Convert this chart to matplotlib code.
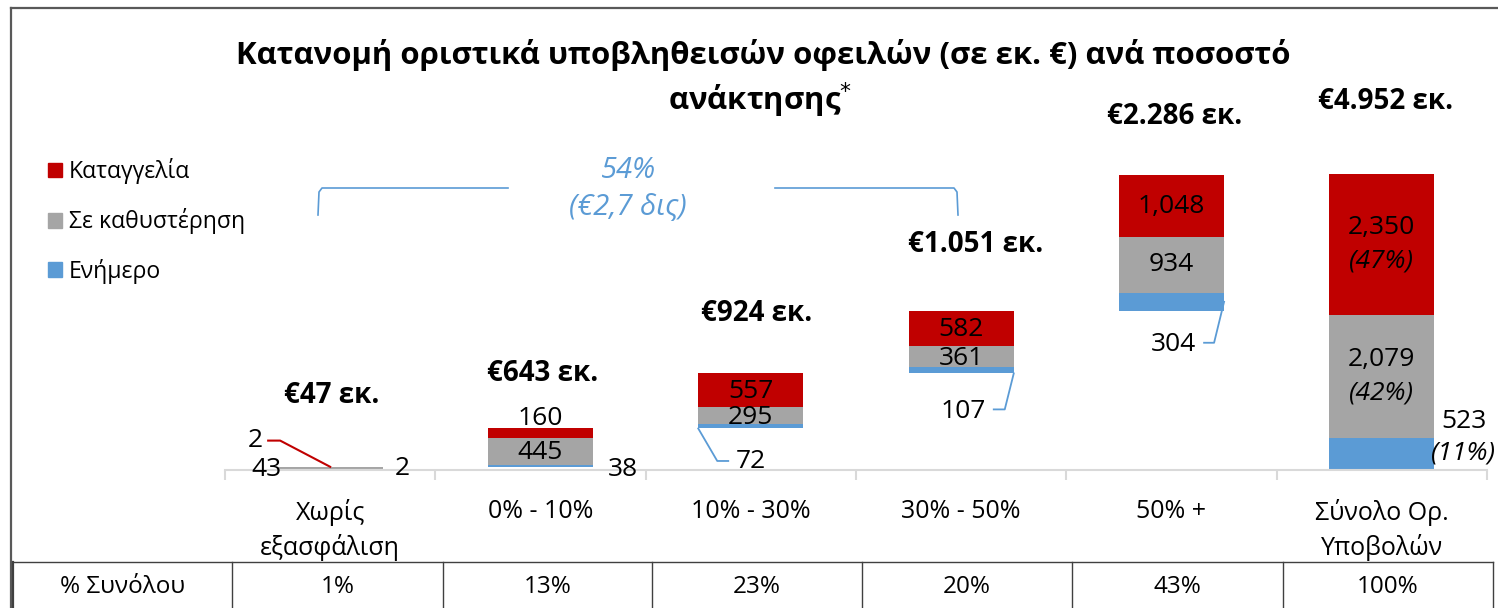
import matplotlib
matplotlib.use('Agg')
import matplotlib.pyplot as plt
from matplotlib.patches import Patch
from matplotlib.lines import Line2D

# ---------------- data ----------------
categories = ["Χωρίς\nεξασφάλιση", "0% - 10%", "10% - 30%", "30% - 50%", "50% +", "Σύνολο Ορ.\nΥποβολών"]
enimero = [2, 38, 72, 107, 304, 523]            # Ενήμερο
kathysterisi = [43, 445, 295, 361, 934, 2079]    # Σε καθυστέρηση
katangelia = [2, 160, 557, 582, 1048, 2350]      # Καταγγελία
total_labels = ["€47 εκ.", "€643 εκ.", "€924 εκ.", "€1.051 εκ.", "€2.286 εκ.", "€4.952 εκ."]
share_of_total = ["1%", "13%", "23%", "20%", "43%", "100%"]
total_split_pct = ["(11%)", "(42%)", "(47%)"]
is_total = [False, False, False, False, False, True]
bracket_pct = "54%"
bracket_amount = "(€2,7 δις)"
table_header = "% Συνόλου"
title_line1 = "Κατανομή οριστικά υποβληθεισών οφειλών (σε εκ. €) ανά ποσοστό"
title_line2 = "ανάκτησης$^{*}$"
series_names = ["Καταγγελία", "Σε καθυστέρηση", "Ενήμερο"]

# ---------------- style ----------------
RED = "#C00000"
GRAY = "#A5A5A5"
BLUE = "#5B9BD5"
AXGRAY = "#D9D9D9"
FONT = ["Open Sans", "DejaVu Sans"]
plt.rcParams['font.family'] = FONT

W, H = 1498, 608
AX_L, AX_R, AX_B, AX_T = 225, 1487, 469.6, 8
YMAX = 7745

fig = plt.figure(figsize=(W / 100, H / 100), dpi=100)
ax = fig.add_axes([AX_L / W, 1 - AX_B / H, (AX_R - AX_L) / W, (AX_B - AX_T) / H])
ax.set_xlim(-0.5, 5.5)
ax.set_ylim(0, YMAX)
XPX = (AX_R - AX_L) / 6.0
YPX = (AX_B - AX_T) / YMAX


def dx(p):
    return p / XPX


def dy(p):
    return p / YPX


# waterfall bases
sums = [a + b + c for a, b, c in zip(enimero, kathysterisi, katangelia)]
bases = []
run = 0
for s, t in zip(sums, is_total):
    if t:
        bases.append(0)
    else:
        bases.append(run)
        run += s

x = list(range(len(categories)))
BW = 0.5
b1 = bases
b2 = [b + e for b, e in zip(bases, enimero)]
b3 = [b + k for b, k in zip(b2, kathysterisi)]
ax.bar(x, enimero, BW, bottom=b1, color=BLUE, edgecolor='none', zorder=2)
ax.bar(x, kathysterisi, BW, bottom=b2, color=GRAY, edgecolor='none', zorder=2)
ax.bar(x, katangelia, BW, bottom=b3, color=RED, edgecolor='none', zorder=2)
tops = [b + k for b, k in zip(b3, katangelia)]

# axis styling
for s in ['top', 'right', 'left']:
    ax.spines[s].set_visible(False)
ax.spines['bottom'].set_color(AXGRAY)
ax.spines['bottom'].set_linewidth(1.5)
ax.set_yticks([])
ax.set_xticks(x)
ax.set_xticklabels(categories, fontsize=18, linespacing=1.38)
ax.set_xticks([i - 0.5 for i in range(len(categories) + 1)], minor=True)
ax.tick_params(axis='x', which='major', length=0, pad=21)
ax.tick_params(axis='x', which='minor', length=7, width=1.5, color=AXGRAY)

LBL = 19


def lab(xd, yd, text, ox=0, oy=0, **kw):
    kw.setdefault('fontsize', LBL)
    kw.setdefault('ha', 'center')
    kw.setdefault('va', 'center')
    ax.annotate(text, (xd, yd), xytext=(ox, oy), textcoords='offset pixels',
                annotation_clip=False, **kw)


# totals above bars
total_dx = [2, 2, 6, 14, 3, 4]
total_dy = [71, 55, 60, 66, 58, 73]
for i in x:
    lab(i, tops[i], total_labels[i], total_dx[i], total_dy[i], fontweight='bold', fontsize=20)

# inside labels (regular bars 2..4)
for i in [2, 3, 4]:
    lab(i, b2[i] + kathysterisi[i] / 2, f"{kathysterisi[i]:,}", 0, -2 if i != 4 else 0)
    lab(i, b3[i] + katangelia[i] / 2, f"{katangelia[i]:,}", 0, -1)
# bar 1
lab(1, b2[1] + kathysterisi[1] / 2, f"{kathysterisi[1]:,}", 0, -1)
lab(1, tops[1], f"{katangelia[1]:,}", 0, 10)
lab(1, bases[1], f"{enimero[1]:,}", 82, -3)
# bar 0
lab(0, 0, f"{katangelia[0]:,}", -75, 29)
ax.plot([0 - dx(62), 0 - dx(50), 0], [dy(29), dy(29), tops[0]], color=RED, lw=1.5, zorder=3, clip_on=False)
lab(0, 0, f"{kathysterisi[0]:,}", -64, 0)
lab(0, 0, f"{enimero[0]:,}", 72, 1)
# bar 2 leader (blue)
lab(2, bases[2], f"{enimero[2]:,}", 0, -33)
le = 2 - BW / 2
ax.plot([le, le + dx(19), le + dx(30)], [bases[2], bases[2] - dy(32.5), bases[2] - dy(32.5)],
        color=BLUE, lw=1.3, clip_on=False)
# bar 3 leader
lab(3, bases[3], f"{enimero[3]:,}", 2, -38)
re = 3 + BW / 2
ax.plot([re, re - dx(9), re - dx(20)], [bases[3], bases[3] - dy(36), bases[3] - dy(36)],
        color=BLUE, lw=1.3, clip_on=False)
# bar 4 leader
lab(4, bases[4], f"{enimero[4]:,}", 2, -34)
re = 4 + BW / 2
ym = bases[4] + enimero[4] / 2
ax.plot([re, re - dx(10), re - dx(20)], [ym, ym - dy(41), ym - dy(41)],
        color=BLUE, lw=1.3, clip_on=False)
# total bar
lab(5, b3[5] + katangelia[5] / 2, f"{katangelia[5]:,}", 0, 16.5)
lab(5, b3[5] + katangelia[5] / 2, total_split_pct[2], 0, -16.5, style='italic')
lab(5, b2[5] + kathysterisi[5] / 2, f"{kathysterisi[5]:,}", 0, 16.5)
lab(5, b2[5] + kathysterisi[5] / 2, total_split_pct[1], 0, -16.5, style='italic')
lab(5, 0, f"{enimero[5]:,}", 82, 47.6)
lab(5, 0, total_split_pct[0], 82, 16.6, style='italic')

# legend
handles = [Patch(color=RED), Patch(color=GRAY), Patch(color=BLUE)]
fig.legend(handles, series_names, loc='upper left', bbox_to_anchor=(39 / W, 1 - 149 / H),
           frameon=False, fontsize=16.6, handlelength=0.6, handleheight=0.6,
           handletextpad=0.3, labelspacing=1.05, borderaxespad=0)


def fpx(px, py):
    return px / W, 1 - py / H


def fline(xs, ys, **kw):
    fx = [p / W for p in xs]
    fy = [1 - p / H for p in ys]
    fig.add_artist(Line2D(fx, fy, transform=fig.transFigure, **kw))


# title
fig.text(*fpx(763, 55), title_line1, ha='center', va='center', fontsize=22.4, fontweight='bold')
fig.text(*fpx(760, 100), title_line2, ha='center', va='center', fontsize=22.4, fontweight='bold')

# bracket annotation
fline([318, 319, 322, 508], [215, 192, 188, 188], color=BLUE, lw=1.2)
fline([775, 954, 957, 958], [188, 188, 192, 215], color=BLUE, lw=1.2)
fig.text(*fpx(628, 170), bracket_pct, ha='center', va='center', fontsize=21, color=BLUE, style='italic')
fig.text(*fpx(628, 207), bracket_amount, ha='center', va='center', fontsize=21, color=BLUE, style='italic')

# frame
fline([11, 11], [608, 8], color='#595959', lw=1.6)
fline([11, 1498], [8, 8], color='#595959', lw=1.6)

# table
cols = [13, 232, 443, 652, 862, 1072, 1283, 1493]
fline([13, 1493], [562, 562], color='#404040', lw=1.0)
for c in cols:
    fline([c, c], [562, 608], color='#404040', lw=1.0 if c != 13 else 1.6)
fig.text(*fpx((cols[0] + cols[1]) / 2, 587), table_header, ha='center', va='center', fontsize=17.5)
for i, s in enumerate(share_of_total):
    fig.text(*fpx((cols[i + 1] + cols[i + 2]) / 2, 587), s, ha='center', va='center', fontsize=17.5)

fig.savefig('out.png', dpi=100)
